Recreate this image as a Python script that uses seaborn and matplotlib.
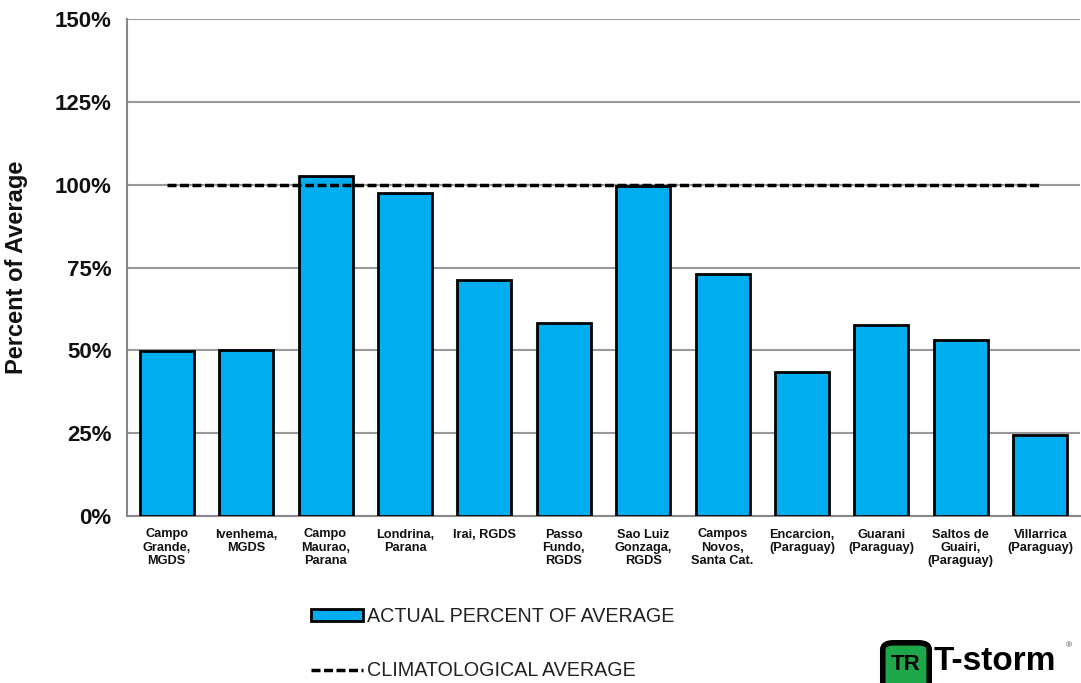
import matplotlib
matplotlib.use("Agg")
import matplotlib.pyplot as plt
import seaborn as sns
import pandas as pd
import numpy as np
from matplotlib.patches import Patch, FancyBboxPatch
from matplotlib.lines import Line2D
from matplotlib.ticker import FixedLocator

categories = ["Campo\nGrande,\nMGDS", "Ivenhema,\nMGDS", "Campo\nMaurao,\nParana",
              "Londrina,\nParana", "Irai, RGDS", "Passo\nFundo,\nRGDS",
              "Sao Luiz\nGonzaga,\nRGDS", "Campos\nNovos,\nSanta Cat.",
              "Encarcion,\n(Paraguay)", "Guarani\n(Paraguay)",
              "Saltos de\nGuairi,\n(Paraguay)", "Villarrica\n(Paraguay)"]
actual_pct = [49.8, 50.1, 102.6, 97.5, 71.2, 58.3, 99.6, 73.0, 43.5, 57.7, 53.1, 24.4]
climatology = [100] * len(categories)
yticks = [0, 25, 50, 75, 100, 125, 150]
ytick_labels = ["0%", "25%", "50%", "75%", "100%", "125%", "150%"]

sns.set_style("white")
plt.rcParams['font.family'] = ['Liberation Sans', 'DejaVu Sans']

fig = plt.figure(figsize=(10.81, 6.83), dpi=100)
ax = fig.add_axes([127/1081, 1-516/683, (1080-127)/1081, (516-19)/683])

df = pd.DataFrame({"cat": categories, "val": actual_pct, "clim": climatology})
bar_color = "#00AEEF"
dash = (0, (2.6, 1.0))
sns.barplot(data=df, x="cat", y="val", color=bar_color, edgecolor="black",
            linewidth=2, width=0.68, saturation=1, ax=ax, zorder=3)
sns.lineplot(x=np.arange(len(categories)), y=df["clim"], color="black",
             linestyle=dash, linewidth=2.5, ax=ax, zorder=4)

ax.set_xlim(-0.5, len(categories) - 0.5)
ax.set_ylim(0, 150)
ax.set_yticks(yticks)
ax.set_yticklabels(ytick_labels, fontsize=16, fontweight="bold", color="#111111")
ax.set_xticks(range(len(categories)))
ax.set_xticklabels(categories, fontsize=9.2, fontweight="bold", color="#111111",
                   linespacing=1.15, va="top")
ax.tick_params(axis="x", which="major", length=0, pad=9)
ax.xaxis.set_minor_locator(FixedLocator(np.arange(-0.5, len(categories), 1)))
ax.tick_params(axis="x", which="minor", length=4, color="#888888", width=1.2, direction="out")
ax.tick_params(axis="y", length=6, color="#888888", width=1.2, direction="out", pad=5)
ax.yaxis.grid(True, color="#999999", linewidth=1.5, zorder=0)
ax.set_axisbelow(True)
ax.set_xlabel("")
ax.set_ylabel("Percent of Average", fontsize=17, fontweight="bold", color="#111111")
ax.yaxis.set_label_coords(-0.104, 0.5)
for s in ["top", "right"]:
    ax.spines[s].set_visible(False)
for s in ["left", "bottom"]:
    ax.spines[s].set_color("#888888")
    ax.spines[s].set_linewidth(1.5)

# legend
handles = [Patch(facecolor=bar_color, edgecolor="black", linewidth=2),
           Line2D([0], [0], color="black", linestyle=dash, linewidth=2.5)]
labels = ["ACTUAL PERCENT OF AVERAGE", "CLIMATOLOGICAL AVERAGE"]
leg = fig.legend(handles, labels, loc="upper left", bbox_to_anchor=(293/1081, 1-589/683),
                 frameon=False, fontsize=14.2, labelspacing=1.8, handlelength=2.65,
                 handleheight=0.55, handletextpad=0.2, labelcolor="#222222")

# logo
fig.patches.append(FancyBboxPatch((886/1081, 1-683/683 - 0.01), 40/1081, 45/683,
                                  boxstyle="round,pad=0.003,rounding_size=0.01",
                                  transform=fig.transFigure, facecolor="#1FA64A",
                                  edgecolor="black", linewidth=4))
fig.text(906/1081, 1-665/683, "TR", fontsize=16, fontweight="bold", color="black",
         ha="center", va="center")
fig.text(934/1081, 1-662/683, "T-storm", fontsize=24, fontweight="bold", color="black",
         ha="left", va="center")
fig.text(1066/1081, 1-646/683, "®", fontsize=6, color="#444444", ha="left", va="center")

fig.savefig("out.png", dpi=100)
